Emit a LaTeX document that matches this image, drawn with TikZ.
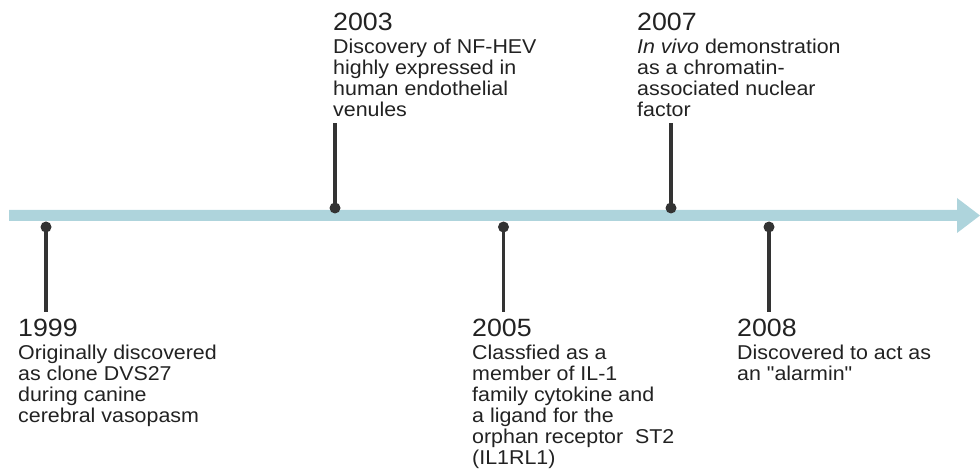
\documentclass[tikz,border=0pt]{standalone}
\usepackage{fontspec}
\setmainfont{Liberation Sans}[FakeStretch=1.07]
\newfontfamily\plainq{Liberation Sans}[FakeStretch=1.07]
\definecolor{barblue}{HTML}{AED4DC}
\definecolor{stem}{HTML}{333333}
\definecolor{txt}{HTML}{222222}
\newcommand\yearfont{\fontsize{25}{25}\selectfont}
\newcommand\bodyfont{\fontsize{20}{21}\selectfont}
\newcommand\tline[1]{\hbox{\bodyfont #1}}
\newcommand\evtext[2]{\vtop{\baselineskip=21pt\lineskiplimit=-60pt\lineskip=0pt
  \hbox{\yearfont #1}\vskip2pt #2}}
\newcommand\sq{{\plainq\symbol{34}}}
\tikzset{
  dotnode/.style={circle, fill=stem, inner sep=0pt, minimum size=11pt},
  stemline/.style={draw=stem, line width=3.5pt},
  evlabel/.style={anchor=base west, inner sep=0pt, text=txt},
}
\begin{document}
\begin{tikzpicture}[x=1pt,y=-1pt]
\useasboundingbox (0,0) rectangle (980,470);
% timeline arrow
\fill[barblue] (9,210) -- (957,210) -- (957,198) -- (980,215.5) -- (957,233) -- (957,221) -- (9,221) -- cycle;
% stem end points
\coordinate (e1999) at (46,312);
\coordinate (e2003) at (335,123);
\coordinate (e2005) at (503.5,312);
\coordinate (e2007) at (671,123);
\coordinate (e2008) at (769,312);
% dots
\node[dotnode] (d1999) at (46,227) {};
\node[dotnode] (d2003) at (335,208) {};
\node[dotnode] (d2005) at (503.5,227) {};
\node[dotnode] (d2007) at (671,208) {};
\node[dotnode] (d2008) at (769,227) {};
% stems
\draw[stemline] (d1999.center) -- (e1999);
\draw[stemline] (d2003.center) -- (e2003);
\draw[stemline] (d2005.center) -- (e2005);
\draw[stemline] (d2007.center) -- (e2007);
\draw[stemline] (d2008.center) -- (e2008);
% labels
\node[evlabel] (t1999) at (18,337) {\evtext{1999}{\tline{Originally discovered}\tline{as clone DVS27}\tline{during canine}\tline{cerebral vasopasm}}};
\node[evlabel] (t2003) at (333,31) {\evtext{2003}{\tline{Discovery of NF-HEV}\tline{highly expressed in}\tline{human endothelial}\tline{venules}}};
\node[evlabel] (t2005) at (472,337) {\evtext{2005}{\tline{Classfied as a}\tline{member of IL-1}\tline{family cytokine and}\tline{a ligand for the}\tline{orphan receptor\ \ ST2}\tline{(IL1RL1)}}};
\node[evlabel] (t2007) at (637,31) {\evtext{2007}{\tline{\itshape In vivo\upshape\ demonstration}\tline{as a chromatin-}\tline{associated nuclear}\tline{factor}}};
\node[evlabel] (t2008) at (737,337) {\evtext{2008}{\tline{Discovered to act as}\tline{an \sq alarmin\sq}}};
\end{tikzpicture}
\end{document}
